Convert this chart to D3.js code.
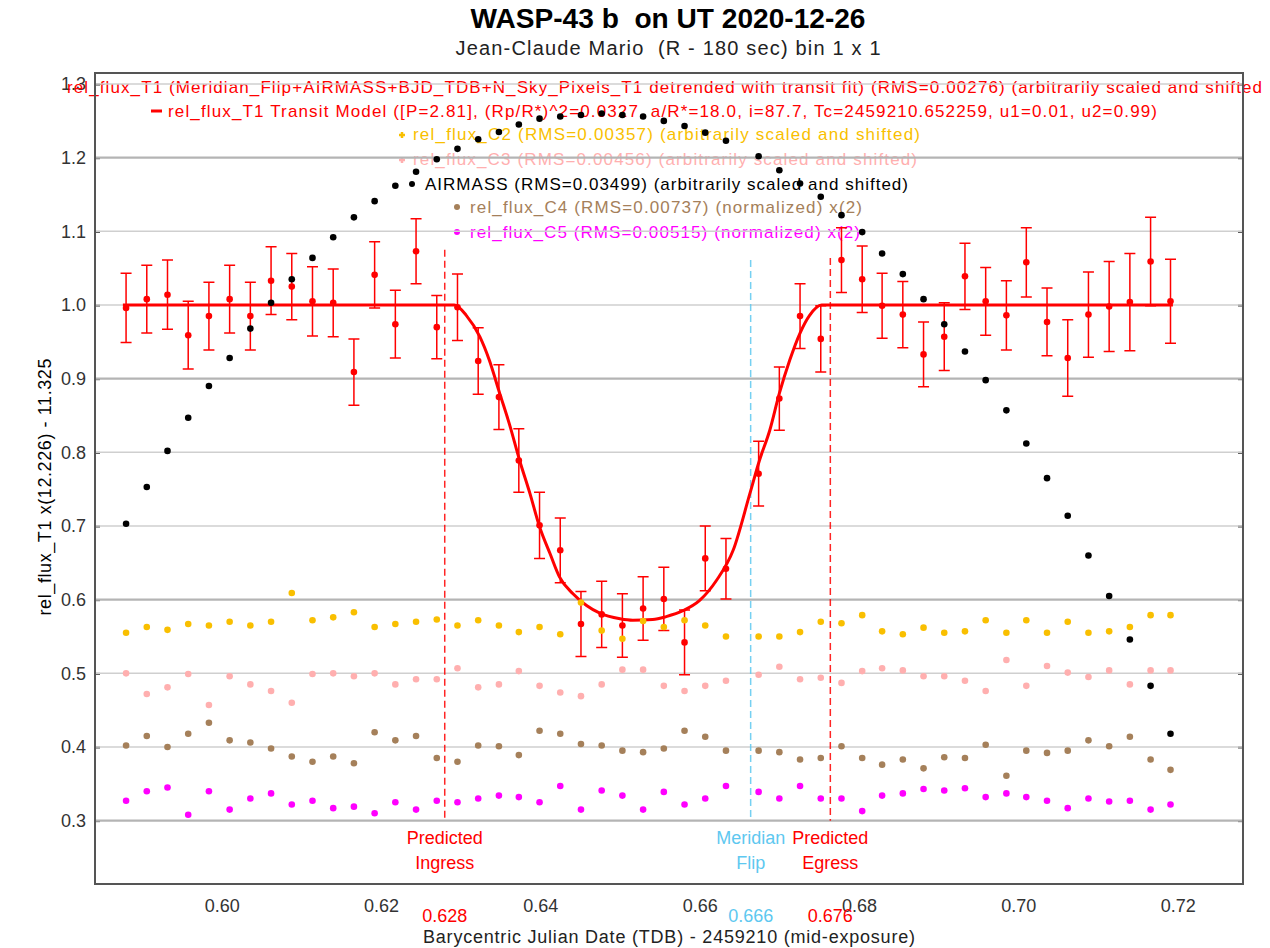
<!DOCTYPE html>
<meta charset="utf-8">
<title>WASP-43 b on UT 2020-12-26</title>
<style>
  body { margin: 0; background: #fff; }
  svg { display: block; font-family: "Liberation Sans", Arial, sans-serif; }
  text { white-space: pre; }
</style>
<body>
<script src="https://cdn.jsdelivr.net/npm/d3@7"></script>
<script>
// values (BJD_TDB - 2459210)
var bjd = [0.5880,0.5906,0.5932,0.5958,0.5984,0.6010,0.6036,0.6062,0.6088,0.6114,
           0.6140,0.6166,0.6192,0.6218,0.6244,0.6270,0.6296,0.6322,0.6348,0.6373,
           0.6399,0.6425,0.6451,0.6477,0.6503,0.6529,0.6555,0.6581,0.6607,0.6633,
           0.6674,0.6700,0.6726,0.6752,0.6778,0.6804,0.6829,0.6855,0.6881,0.6907,
           0.6933,0.6959,0.6985,0.7010,0.7036,0.7062,0.7088,0.7114,0.7140,0.7166,0.7191];

var relT1 = [0.996,1.008,1.014,0.959,0.985,1.008,0.985,1.033,1.025,1.005,
             1.003,0.909,1.041,0.974,1.073,0.970,0.997,0.924,0.875,0.789,
             0.701,0.667,0.567,0.580,0.565,0.588,0.601,0.542,0.656,0.642,
             0.771,0.873,0.985,0.954,1.061,1.035,0.999,0.987,0.933,0.957,
             1.039,1.005,0.986,1.058,0.977,0.928,0.987,0.998,1.004,1.059,1.005];

var relT1Err = [0.047,0.046,0.047,0.046,0.046,0.046,0.046,0.046,0.045,0.047,
                0.046,0.045,0.045,0.046,0.044,0.043,0.045,0.045,0.044,0.043,
                0.045,0.044,0.044,0.045,0.043,0.043,0.043,0.044,0.044,0.041,
                0.044,0.043,0.044,0.045,0.044,0.045,0.044,0.045,0.044,0.046,
                0.045,0.046,0.047,0.047,0.046,0.052,0.058,0.061,0.066,0.060,0.057];

var relC2 = [0.555,0.563,0.559,0.567,0.565,0.570,0.565,0.570,0.609,0.572,
             0.576,0.583,0.563,0.567,0.570,0.573,0.565,0.572,0.565,0.556,
             0.563,0.553,0.596,0.558,0.547,0.571,0.563,0.572,0.565,0.550,
             0.550,0.550,0.556,0.570,0.568,0.579,0.557,0.553,0.562,0.555,
             0.557,0.572,0.555,0.572,0.555,0.570,0.555,0.557,0.563,0.579,0.579];

var relC3 = [0.500,0.472,0.481,0.499,0.457,0.496,0.485,0.476,0.460,0.499,
             0.500,0.496,0.500,0.485,0.492,0.492,0.507,0.481,0.485,0.503,
             0.483,0.474,0.469,0.485,0.505,0.505,0.483,0.476,0.483,0.490,
             0.498,0.509,0.492,0.494,0.487,0.503,0.507,0.504,0.496,0.496,
             0.490,0.476,0.518,0.483,0.510,0.501,0.495,0.504,0.485,0.504,0.504];

var airmass = [0.703,0.753,0.802,0.847,0.890,0.928,0.968,1.003,1.035,1.064,
               1.092,1.119,1.141,1.162,1.181,1.198,1.212,1.225,1.235,1.245,
               1.253,1.256,1.258,1.260,1.258,1.256,1.250,1.243,1.234,1.223,
               1.202,1.183,1.165,1.147,1.122,1.099,1.070,1.042,1.008,0.974,
               0.937,0.898,0.857,0.812,0.765,0.714,0.660,0.605,0.546,0.483,0.418];

var relC4 = [0.402,0.415,0.400,0.418,0.433,0.409,0.406,0.398,0.387,0.380,
             0.387,0.378,0.420,0.409,0.415,0.385,0.380,0.402,0.401,0.389,
             0.422,0.418,0.404,0.402,0.395,0.393,0.398,0.422,0.414,0.395,
             0.395,0.393,0.383,0.385,0.401,0.385,0.376,0.383,0.371,0.386,
             0.385,0.403,0.361,0.395,0.392,0.395,0.409,0.401,0.414,0.383,0.369];

var relC5 = [0.327,0.340,0.345,0.308,0.340,0.315,0.330,0.337,0.322,0.327,
             0.317,0.319,0.310,0.325,0.315,0.327,0.325,0.330,0.334,0.332,
             0.325,0.347,0.315,0.341,0.334,0.315,0.339,0.322,0.330,0.347,
             0.339,0.330,0.347,0.330,0.330,0.313,0.334,0.337,0.343,0.341,
             0.344,0.332,0.337,0.332,0.327,0.317,0.330,0.326,0.327,0.315,0.322];

// transit model curve
var modelT = [0.5876,0.6292,0.6307,0.6324,0.6336,0.6349,0.6361,0.6374,0.6387,0.6399,
              0.6412,0.6424,0.6441,0.6458,0.6474,0.6500,0.6516,0.6541,0.6558,0.6579,
              0.6600,0.6621,0.6642,0.6663,0.6675,0.6688,0.6700,0.6713,0.6726,0.6738,
              0.6753,0.7194];
var modelV = [1.000,1.000,0.986,0.957,0.925,0.880,0.839,0.789,0.744,0.699,
              0.663,0.631,0.608,0.592,0.582,0.574,0.572,0.573,0.577,0.585,
              0.599,0.626,0.667,0.744,0.789,0.830,0.880,0.925,0.962,0.986,
              1.000,1.000];

var markerT = [0.6280, 0.6664, 0.6764];
var markerTop = [1.075, 1.061, 1.064];
var markerLabels = [["Predicted","Ingress"], ["Meridian","Flip"], ["Predicted","Egress"]];

var yTicks = [0.3,0.4,0.5,0.6,0.7,0.8,0.9,1.0,1.1,1.2,1.3];
var yMajor = [0.3,0.6,0.9,1.2];
var xTicks = [0.60,0.62,0.64,0.66,0.68,0.70,0.72];

var legendText = [
  "rel_flux_T1 (Meridian_Flip+AIRMASS+BJD_TDB+N_Sky_Pixels_T1 detrended with transit fit) (RMS=0.00276) (arbitrarily scaled and shifted",
  "rel_flux_T1 Transit Model ([P=2.81], (Rp/R*)^2=0.0327, a/R*=18.0, i=87.7, Tc=2459210.652259, u1=0.01, u2=0.99)",
  "rel_flux_C2 (RMS=0.00357) (arbitrarily scaled and shifted)",
  "rel_flux_C3 (RMS=0.00456) (arbitrarily scaled and shifted)",
  "AIRMASS (RMS=0.03499) (arbitrarily scaled and shifted)",
  "rel_flux_C4 (RMS=0.00737) (normalized) x(2)",
  "rel_flux_C5 (RMS=0.00515) (normalized) x(2)"
];

//==================================================================
var width = 1270, height = 948;
var red = "#ff0000", gold = "#f9bf00", pink = "#ffafaf", brown = "#a5805a",
    magenta = "#ff00ff", cyan = "#5ec8f0";
var markerColor = [red, cyan, red];

var x = d3.scaleLinear().domain([0.5841, 0.7282]).range([95, 1243]);
var y = d3.scaleLinear().domain([0.214, 1.315]).range([884, 73]);

var svg = d3.select("body").append("svg")
    .attr("width", width)
    .attr("height", height);

svg.append("rect").attr("width", width).attr("height", height).attr("fill", "#fff");

// titles
svg.append("text")
    .attr("x", 668).attr("y", 28)
    .attr("text-anchor", "middle")
    .style("font-size", "27px").style("font-weight", "bold")
    .attr("textLength", 395).attr("lengthAdjust", "spacingAndGlyphs")
    .text("WASP-43 b  on UT 2020-12-26");
svg.append("text")
    .attr("x", 668).attr("y", 55)
    .attr("text-anchor", "middle")
    .style("font-size", "20px").style("fill", "#222")
    .attr("textLength", 425).attr("lengthAdjust", "spacing")
    .text("Jean-Claude Mario  (R - 180 sec) bin 1 x 1");

// axes
var yAxis = svg.append("g")
    .attr("transform", "translate(95,0)")
    .call(d3.axisLeft(y).tickValues(yTicks).tickFormat(d3.format(".1f")).tickSize(-5).tickPadding(9));
yAxis.select(".domain").remove();
yAxis.selectAll("text").style("font-size", "18px").style("fill", "#333")
    .style("font-family", "'Liberation Sans', Arial, sans-serif");
yAxis.selectAll("line").attr("stroke", "#444").attr("stroke-width", 2);

var yAxisR = svg.append("g")
    .attr("transform", "translate(1243,0)")
    .call(d3.axisRight(y).tickValues(yTicks).tickFormat("").tickSize(-5));
yAxisR.select(".domain").remove();
yAxisR.selectAll("line").attr("stroke", "#444").attr("stroke-width", 2);

var xAxis = svg.append("g")
    .attr("transform", "translate(0,884)")
    .call(d3.axisBottom(x).tickValues(xTicks).tickFormat(d3.format(".2f")).tickSize(0).tickPadding(15));
xAxis.select(".domain").remove();
xAxis.selectAll("text").style("font-size", "18px").style("fill", "#333")
    .style("font-family", "'Liberation Sans', Arial, sans-serif");

svg.append("text")
    .attr("transform", "translate(51," + 487 + ") rotate(-90)")
    .attr("text-anchor", "middle")
    .style("font-size", "18px")
    .attr("textLength", 257).attr("lengthAdjust", "spacing")
    .text("rel_flux_T1 x(12.226) - 11.325");

svg.append("text")
    .attr("x", 669).attr("y", 943)
    .attr("text-anchor", "middle")
    .style("font-size", "18px").style("fill", "#222")
    .attr("textLength", 492).attr("lengthAdjust", "spacing")
    .text("Barycentric Julian Date (TDB) - 2459210 (mid-exposure)");

// legend
var legX0 = [67, 168, 413, 413, 425, 470, 470],
    legX1 = [1262, 1157, 920, 917, 908, 862, 860],
    legBase = [93, 117, 140, 165, 190, 213, 238],
    legColor = [red, red, gold, pink, "#000", brown, magenta];
for (var i = 0; i < legendText.length; i++) {
  svg.append("text")
      .attr("x", legX0[i]).attr("y", legBase[i])
      .attr("textLength", legX1[i] - legX0[i]).attr("lengthAdjust", "spacing")
      .style("font-size", "17px").style("fill", legColor[i])
      .text(legendText[i]);
}
svg.append("line").attr("x1", 151).attr("x2", 162).attr("y1", 111).attr("y2", 111)
    .attr("stroke", red).attr("stroke-width", 3);
[[402, 135, gold], [402, 160, pink]].forEach(function(p) {
  svg.append("path").attr("d", "M" + (p[0]-3) + "," + p[1] + "h6M" + p[0] + "," + (p[1]-3) + "v6")
      .attr("stroke", p[2]).attr("stroke-width", 2.5);
});
[[412, 184, "#000"], [457, 207, brown], [457, 232, magenta]].forEach(function(p) {
  svg.append("circle").attr("cx", p[0]).attr("cy", p[1]).attr("r", 3).attr("fill", p[2]);
});

// grid lines
svg.append("g").selectAll("line")
    .data(yTicks)
    .enter().append("line")
    .attr("x1", 95).attr("x2", 1243)
    .attr("y1", function(d) { return y(d); })
    .attr("y2", function(d) { return y(d); })
    .attr("stroke", function(d) { return yMajor.indexOf(d) >= 0 ? "#b4b4b4" : "#cfcfcf"; })
    .attr("stroke-width", function(d) { return yMajor.indexOf(d) >= 0 ? 2.2 : 1.5; });

// predicted ingress / meridian flip / egress
for (var m = 0; m < markerT.length; m++) {
  var mx = x(markerT[m]);
  svg.append("line")
      .attr("x1", mx).attr("x2", mx)
      .attr("y1", y(markerTop[m])).attr("y2", y(0.3))
      .attr("stroke", markerColor[m]).attr("stroke-width", 1.5)
      .attr("stroke-dasharray", "7,4").attr("opacity", 0.85);
  svg.append("text").attr("x", mx).attr("y", 844).attr("text-anchor", "middle")
      .style("font-size", "18px").style("fill", markerColor[m]).text(markerLabels[m][0]);
  svg.append("text").attr("x", mx).attr("y", 869).attr("text-anchor", "middle")
      .style("font-size", "18px").style("fill", markerColor[m]).text(markerLabels[m][1]);
  svg.append("text").attr("x", mx).attr("y", 922).attr("text-anchor", "middle")
      .style("font-size", "18px").style("fill", markerColor[m]).text(d3.format(".3f")(markerT[m]));
}

// T1 error bars
var errG = svg.append("g").attr("stroke", red).attr("stroke-width", 1.5).attr("fill", "none");
errG.selectAll("path")
    .data(relT1)
    .enter().append("path")
    .attr("d", function(d, i) {
      var cx = x(bjd[i]), top = y(d + relT1Err[i]), bot = y(d - relT1Err[i]);
      return "M" + (cx-5.5) + "," + top + "h11M" + cx + "," + top + "V" + bot +
             "M" + (cx-5.5) + "," + bot + "h11";
    });

svg.append("g").selectAll("circle")
    .data(relT1)
    .enter().append("circle")
    .attr("cx", function(d, i) { return x(bjd[i]); })
    .attr("cy", function(d) { return y(d); })
    .attr("r", 3.3)
    .attr("fill", red);

// transit model
var model = modelT.map(function(t, i) { return [t, modelV[i]]; });
svg.append("path")
    .datum(model)
    .attr("fill", "none")
    .attr("stroke", red)
    .attr("stroke-width", 3)
    .attr("d", d3.line()
        .curve(d3.curveMonotoneX)
        .x(function(d) { return x(d[0]); })
        .y(function(d) { return y(d[1]); }));

// comparison stars and airmass
var series = [[relC2, gold], [relC3, pink], [airmass, "#000"], [relC4, brown], [relC5, magenta]];
series.forEach(function(s) {
  svg.append("g").selectAll("circle")
      .data(s[0])
      .enter().append("circle")
      .attr("cx", function(d, i) { return x(bjd[i]); })
      .attr("cy", function(d) { return y(d); })
      .attr("r", 3.3)
      .attr("fill", s[1]);
});

// frame
svg.append("rect")
    .attr("x", 95).attr("y", 73)
    .attr("width", 1243 - 95).attr("height", 884 - 73)
    .attr("fill", "none")
    .attr("stroke", "#555")
    .attr("stroke-width", 2);
</script>
